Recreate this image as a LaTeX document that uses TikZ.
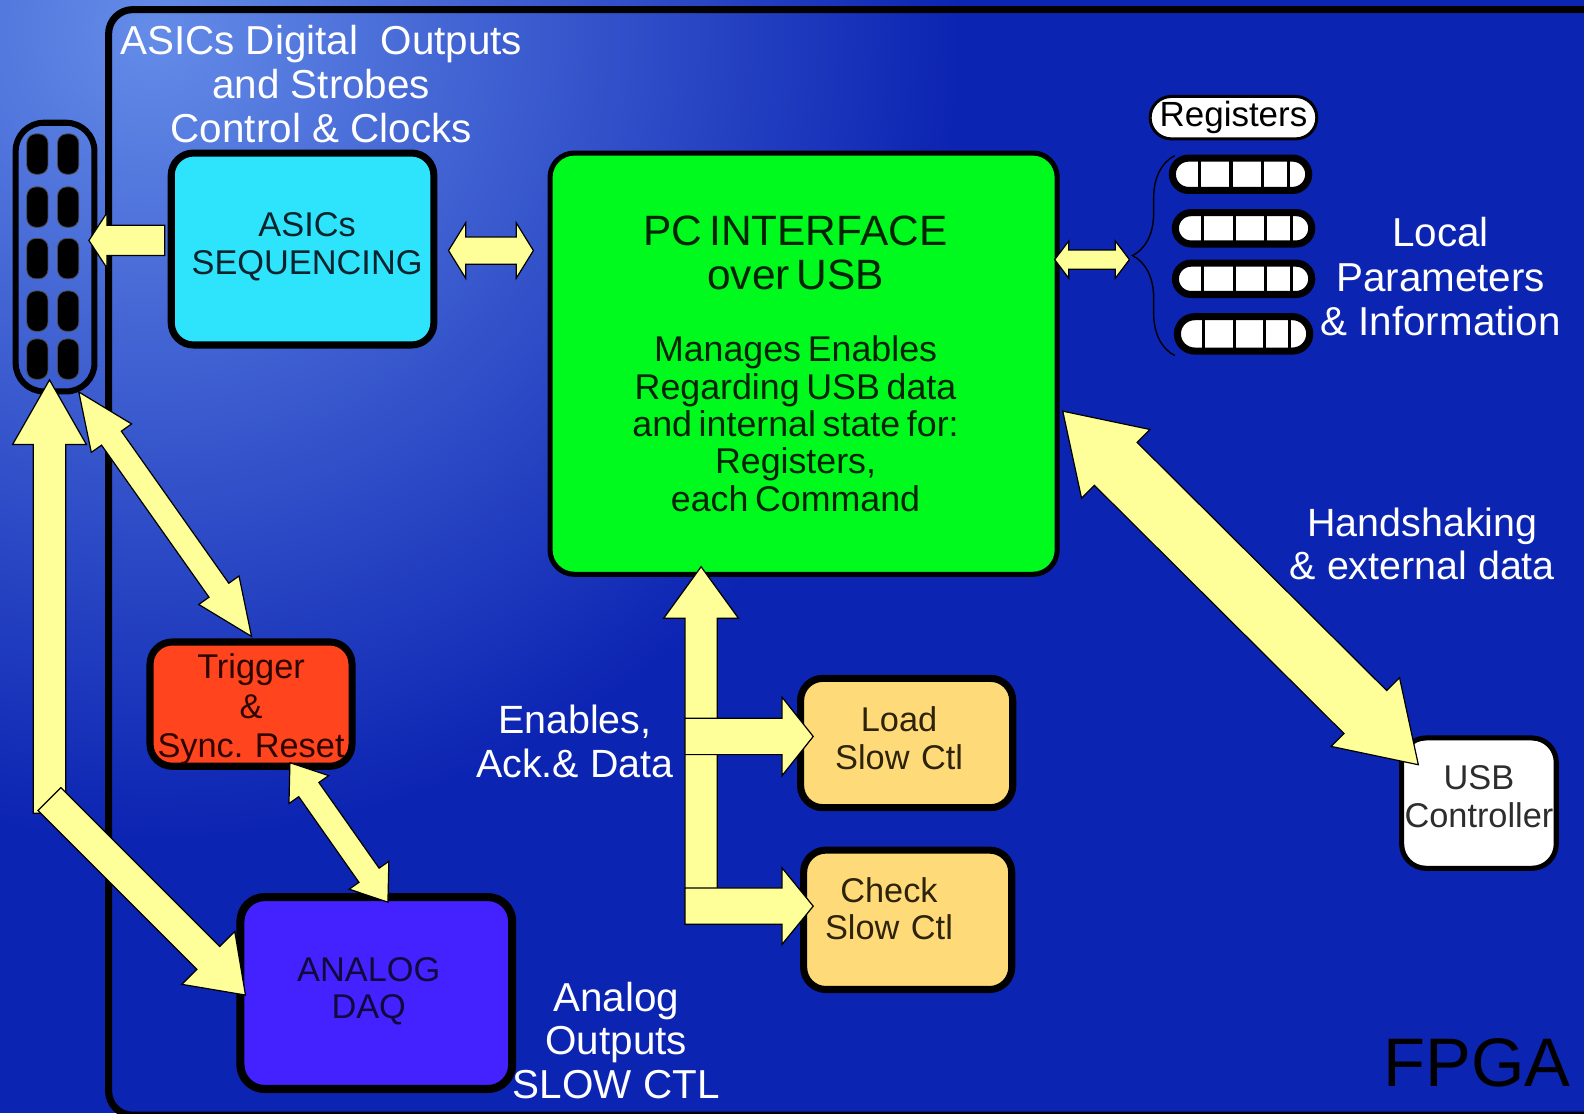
\documentclass[tikz,border=0pt]{standalone}
\usepackage{fontspec}
\setmainfont{Liberation Sans}
\usetikzlibrary{calc,decorations.pathreplacing}

\definecolor{bgblue}{RGB}{12,36,178}
\definecolor{bglight}{RGB}{100,140,232}
\definecolor{arrowyellow}{RGB}{255,255,153}
\definecolor{asicscyan}{RGB}{46,228,252}
\definecolor{pcgreen}{RGB}{0,250,30}
\definecolor{trigred}{RGB}{255,68,30}
\definecolor{adcpurple}{RGB}{68,34,255}
\definecolor{slowctl}{RGB}{255,218,120}
\definecolor{asicstext}{RGB}{10,35,45}
\definecolor{pctext}{RGB}{0,35,0}
\definecolor{trigtext}{RGB}{45,5,0}
\definecolor{adctext}{RGB}{15,10,60}
\definecolor{slowtext}{RGB}{45,35,10}
\definecolor{usbtext}{RGB}{45,45,45}

% shift centred lines inside a text-width node
\newcommand\ctrskip[2]{\leftskip=#1 plus 1fil\rightskip=#2 plus 1fil\parfillskip=0pt\relax}

% double-headed block arrow: #1,#2 tips, #3 head length, #4 head half width, #5 shaft half width
\newcommand\DblArrow[5]{%
  \filldraw[blockarrow] (#1)
   -- ($(#1)!#3!(#2)!#4!90:(#2)$)
   -- ($(#1)!#3!(#2)!#5!90:(#2)$)
   -- ($(#2)!#3!(#1)!#5!-90:(#1)$)
   -- ($(#2)!#3!(#1)!#4!-90:(#1)$)
   -- (#2)
   -- ($(#2)!#3!(#1)!#4!90:(#1)$)
   -- ($(#2)!#3!(#1)!#5!90:(#1)$)
   -- ($(#1)!#3!(#2)!#5!-90:(#2)$)
   -- ($(#1)!#3!(#2)!#4!-90:(#2)$)
   -- cycle;}
% single block arrow: #1 tail, #2 tip
\newcommand\OneArrow[5]{%
  \filldraw[blockarrow] ($(#1)!#5!90:(#2)$)
   -- ($(#2)!#3!(#1)!#5!-90:(#1)$)
   -- ($(#2)!#3!(#1)!#4!-90:(#1)$)
   -- (#2)
   -- ($(#2)!#3!(#1)!#4!90:(#1)$)
   -- ($(#2)!#3!(#1)!#5!90:(#1)$)
   -- ($(#1)!#5!-90:(#2)$)
   -- cycle;}

\begin{document}
\begin{tikzpicture}[x=0.5pt, y=-0.5pt,
  box/.style={draw=black, rectangle, inner sep=0pt, outer sep=0pt, align=center},
  wtext/.style={text=white, align=center, inner sep=0pt},
  blockarrow/.style={fill=arrowyellow, draw=black, line width=0.6pt, line join=miter},
  pinbox/.style={rectangle, fill=black, draw=black!70, line width=0.4pt, rounded corners=4.5pt,
     minimum width=10.5pt, minimum height=20pt, inner sep=0pt, outer sep=0pt},
  regpill/.style={rectangle, draw=black, fill=white, line width=3.5pt, inner sep=0pt, outer sep=0pt},
  regsep/.style={line width=1.5pt, draw=black}]

\useasboundingbox (0,0) rectangle (1568,1102);
\fill[bgblue] (0,0) rectangle (1568,1102);
\begin{scope}
  \clip (0,0) rectangle (1568,1102);
  \shade[inner color=bglight, outer color=bgblue] (150,30) circle (400pt);
\end{scope}

% FPGA frame (runs off the right edge)
\node[box, line width=3.5pt, rounded corners=12pt, minimum width=746.25pt, minimum height=547.25pt]
  (fpga) at (853.75,556.75) {};
\node[text=black, inner sep=0pt, font=\fontsize{34}{40}\selectfont] (fpgatxt) at (1462,1052) {FPGA};

% connector with pins
\node[box, line width=3pt, rounded corners=14pt, minimum width=39pt, minimum height=133pt] (conn) at (54.5,254.5) {};
\foreach \py [count=\i] in {152.5,205,256,308,355.5}
  \foreach \px [count=\j] in {37,67.5}
    \node[pinbox] (pin\i\j) at (\px,\py) {};

% white texts
\node[wtext, font=\fontsize{20}{21.75}\selectfont] (title) at (318,83.5) {ASICs Digital~ Outputs\\and Strobes\\Control \& Clocks};
\node[wtext, font=\fontsize{20}{22}\selectfont] (localtxt) at (1426,274) {Local\\Parameters\\\& Information};
\node[wtext, font=\fontsize{19.5}{21.5}\selectfont] (handtxt) at (1408,538.5) {Handshaking\\\& external data};
\node[wtext, font=\fontsize{19.5}{22}\selectfont] (enabtxt) at (569,734) {Enables,\\Ack.\& Data};
\node[wtext, font=\fontsize{20}{21.5}\selectfont] (aoutxt) at (610,1030) {Analog\\Outputs\\SLOW CTL};

% boxes
\node[box, fill=asicscyan, line width=3.5pt, rounded corners=11pt, minimum width=130pt, minimum height=95pt,
  text width=126pt, text=asicstext, font=\fontsize{17}{19}\selectfont] (asics) at (299.5,246.5)
  {\ctrskip{4.5pt}{0pt}ASICs\\SEQUENCING\rule[-5.5pt]{0pt}{5.5pt}\par};

\node[box, fill=pcgreen, line width=2.5pt, rounded corners=12pt, minimum width=251pt, minimum height=208.5pt,
  text width=240pt, text=pctext] (pc) at (795.5,360)
  {\ctrskip{0pt}{8pt}{\fontsize{21}{22}\selectfont PC INTERFACE\\over USB\par}\vspace{17pt}%
   {\fontsize{17.7}{18.5}\selectfont Manages Enables\\Regarding USB data\\and internal state for:\\Registers,\\each Command\par}};

\node[box, fill=trigred, line width=3.5pt, rounded corners=11pt, minimum width=100pt, minimum height=61.5pt,
  text width=97pt, text=trigtext, font=\fontsize{17}{19.5}\selectfont] (trig) at (248.5,697)
  {\rule{0pt}{17.4pt}Trigger\\\&\\Sync.\ Reset};

\node[box, fill=adcpurple, line width=4pt, rounded corners=12pt, minimum width=134.5pt, minimum height=95pt,
  text width=130pt, text=adctext, font=\fontsize{17}{18.5}\selectfont] (adc) at (372.5,983)
  {\ctrskip{0pt}{7.5pt}ANALOG\\DAQ\rule[-5pt]{0pt}{5pt}\par};

\node[box, fill=slowctl, line width=3.5pt, rounded corners=11pt, minimum width=105pt, minimum height=64pt,
  text width=100pt, text=slowtext, font=\fontsize{17}{18.5}\selectfont] (load) at (897.5,735.5)
  {\ctrskip{0pt}{7.5pt}Load\\Slow Ctl\rule[-5pt]{0pt}{5pt}\par};

\node[box, fill=slowctl, line width=3.5pt, rounded corners=11pt, minimum width=103pt, minimum height=69pt,
  text width=100pt, text=slowtext, font=\fontsize{17}{18.5}\selectfont] (check) at (898.5,910.5)
  {\ctrskip{0pt}{18.5pt}Check\\Slow Ctl\rule[-11pt]{0pt}{11pt}\par};

\node[box, fill=white, line width=2.5pt, rounded corners=12pt, minimum width=76.5pt, minimum height=64.5pt,
  text width=76pt, text=usbtext, font=\fontsize{17}{18.5}\selectfont] (usb) at (1464,795)
  {USB\\Controller\rule[-6.5pt]{0pt}{6.5pt}};

% registers
\node[box, fill=white, line width=1.5pt, rounded corners=10.5pt, minimum width=82.5pt, minimum height=21pt,
  font=\fontsize{17.3}{19}\selectfont] (reglabel) at (1221,116.5) {Registers};
\node[regpill, rounded corners=8pt, minimum width=67.5pt, minimum height=16pt] (reg1) at (1228,172.5) {};
\node[regpill, rounded corners=7.75pt, minimum width=67.5pt, minimum height=15.5pt] (reg2) at (1231,226) {};
\node[regpill, rounded corners=7.75pt, minimum width=67.5pt, minimum height=15.5pt] (reg3) at (1231,276) {};
\node[regpill, rounded corners=8.5pt, minimum width=65.5pt, minimum height=17pt] (reg4) at (1231,330.5) {};
\foreach \r in {reg1,reg2,reg3,reg4}
  \foreach \f in {0.2,0.43,0.66,0.85}
    \draw[regsep] ($(\r.north west)!\f!(\r.north east)$) -- ($(\r.south west)!\f!(\r.south east)$);
\draw[black, line width=0.7pt, decorate, decoration={brace, amplitude=21pt}] (1163,352) -- (1163,154);
\coordinate (bracetip) at (1118,257);

% connector coordinates
\coordinate (scT) at (163,238);   \coordinate (scH) at (88,238);
\coordinate (spA) at (444,248);   \coordinate (spB) at (528,248);
\coordinate (prA) at (1044,257);
\coordinate (puA) at (1052,407);  \coordinate (puB) at (1404,757);
\coordinate (ctA) at (78,388);    \coordinate (ctB) at (249,630);
\coordinate (cvT) at (49,805);    \coordinate (cvH) at (49,376);
\coordinate (caT) at (49,791);    \coordinate (caH) at (243,985);
\coordinate (taA) at (287,755);   \coordinate (taB) at (384,893);
\coordinate (epT) at (694,915);   \coordinate (epH) at (694,561);
\coordinate (elT) at (678,729);   \coordinate (elH) at (805,729);
\coordinate (ecT) at (678,897);   \coordinate (ecH) at (805,897);

% arrows
\OneArrow{scT}{scH}{9pt}{13.75pt}{7.5pt}
\DblArrow{spA}{spB}{8.5pt}{13.75pt}{6.75pt}
\DblArrow{prA}{bracetip}{7pt}{9.25pt}{4.75pt}
\DblArrow{puA}{puB}{37pt}{24pt}{15pt}
\DblArrow{ctA}{ctB}{28pt}{12.2pt}{6pt}
\OneArrow{cvT}{cvH}{32pt}{18.25pt}{8pt}
\OneArrow{caT}{caH}{26pt}{18.5pt}{8pt}
\DblArrow{taA}{taB}{16.25pt}{12pt}{6.1pt}
\OneArrow{epT}{epH}{25.5pt}{18.5pt}{8pt}
\OneArrow{elT}{elH}{15.5pt}{19.5pt}{9pt}
\OneArrow{ecT}{ecH}{15.5pt}{19pt}{9pt}
\end{tikzpicture}
\end{document}
